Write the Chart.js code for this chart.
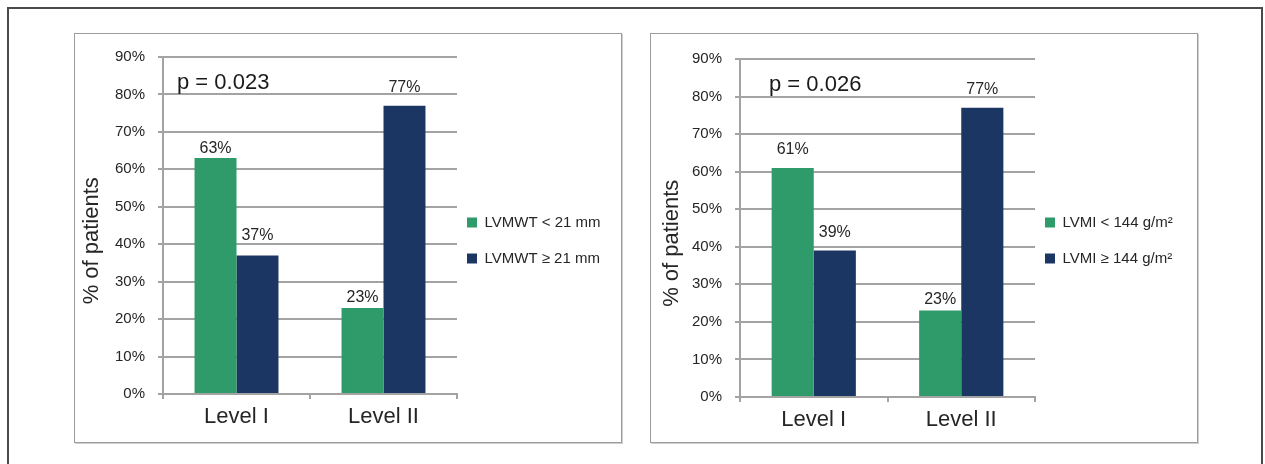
<!DOCTYPE html>
<html>
<head>
<meta charset="utf-8">
<title>Hypertrophy level and LV wall thickness / mass index</title>
<script src="https://cdn.jsdelivr.net/npm/chart.js@4.4.1/dist/chart.umd.min.js"></script>
<style>
  html, body { margin: 0; padding: 0; background: #fff; }
  body { width: 1265px; height: 464px; position: relative; overflow: hidden; }
  #frame { position: absolute; left: 7px; top: 7px; width: 1252px; height: 500px;
           border: 2px solid #4a4a4a; border-bottom: none; }
  .panel { position: absolute; top: 33px; width: 546px; height: 408px;
           border: 1px solid #9c9c9c; box-shadow: 1px 1px 0 #cfcfcf; background: #fff; }
  #panelWT { left: 74px; }
  #panelMI { left: 650px; }
  canvas { display: block; }
</style>
</head>
<body>
<div id="frame"></div>
<div class="panel" id="panelWT"><canvas id="chartWT" width="546" height="408"></canvas></div>
<div class="panel" id="panelMI"><canvas id="chartMI" width="546" height="408"></canvas></div>

<script>
// ---- data ----
const categories = ['Level I', 'Level II'];

const wallThicknessNames = ['LVMWT < 21 mm', 'LVMWT ≥ 21 mm'];
const wallThicknessBelow = [63, 23];
const wallThicknessAbove = [37, 77];

const massIndexNames = ['LVMI < 144 g/m²', 'LVMI ≥ 144 g/m²'];
const massIndexBelow = [61, 23];
const massIndexAbove = [39, 77];

const yTickValues = [0, 10, 20, 30, 40, 50, 60, 70, 80, 90];
const pValueTexts = ['p = 0.023', 'p = 0.026'];
const yAxisTitle = '% of patients';

// ---- style ----
const FONT = '"Liberation Sans", Arial, Helvetica, sans-serif';
const GREEN = '#2f9a6a';
const NAVY = '#1c3664';
const GRID = '#a3a3a3';
const TEXT = '#262626';

Chart.defaults.font.family = FONT;
Chart.defaults.color = TEXT;

// value text above each bar
const valueLabels = {
  id: 'valueLabels',
  afterDatasetsDraw(chart, args, opts) {
    const ctx = chart.ctx;
    ctx.save();
    ctx.font = '16px ' + FONT;
    ctx.fillStyle = TEXT;
    ctx.textAlign = 'center';
    ctx.textBaseline = 'alphabetic';
    chart.data.datasets.forEach((ds, i) => {
      chart.getDatasetMeta(i).data.forEach((bar, j) => {
        ctx.fillText(ds.data[j] + '%', bar.x, bar.y - opts.lift[i][j]);
      });
    });
    ctx.restore();
  }
};

// significance note in the upper left of the plot
const pValueNote = {
  id: 'pValueNote',
  afterDatasetsDraw(chart, args, opts) {
    const ctx = chart.ctx;
    const y = chart.scales.y.getPixelForValue(opts.level);
    ctx.save();
    ctx.font = '22px ' + FONT;
    ctx.fillStyle = '#1a1a1a';
    ctx.textAlign = 'left';
    ctx.textBaseline = 'middle';
    ctx.fillText(opts.text, chart.chartArea.left + opts.dx, y);
    ctx.restore();
  }
};

// keep the legend close to the plot and centred on the panel
const legendPlacement = {
  id: 'legendPlacement',
  afterLayout(chart, args, opts) {
    const lg = chart.legend;
    const dx = lg.options.labels.padding - opts.gap;
    lg.left -= dx;
    lg.right = chart.width;
    lg.width = lg.right - lg.left;
    lg.top += opts.dy;
    lg.bottom += opts.dy;
  }
};

function buildChart(id, names, below, above, pText, lay) {
  return new Chart(document.getElementById(id), {
    type: 'bar',
    data: {
      labels: categories,
      datasets: [
        { label: names[0], data: below, backgroundColor: GREEN },
        { label: names[1], data: above, backgroundColor: NAVY }
      ]
    },
    options: {
      responsive: false,
      animation: false,
      events: [],
      layout: { padding: { left: 0, right: lay.padRight, top: lay.padTop, bottom: 0 } },
      datasets: { bar: { categoryPercentage: 0.571, barPercentage: 1.0 } },
      scales: {
        x: {
          afterFit: (scale) => { scale.height = lay.xAxisHeight; },
          grid: { drawOnChartArea: false, drawTicks: true, tickLength: 5, color: GRID, lineWidth: 2 },
          border: { color: GRID, width: 2 },
          ticks: { font: { size: 22 }, color: TEXT, padding: 5 }
        },
        y: {
          min: 0,
          max: 90,
          afterBuildTicks: (scale) => { scale.ticks = yTickValues.map(v => ({ value: v })); },
          afterFit: (scale) => { scale.width = lay.yAxisWidth; },
          ticks: { callback: v => v + '%', font: { size: 15 }, color: TEXT, padding: 13 },
          grid: { color: GRID, lineWidth: 2, tickLength: 5 },
          border: { color: GRID, width: 2 },
          title: {
            display: true,
            text: yAxisTitle + '     ',
            font: { size: 22 },
            color: TEXT,
            padding: { top: lay.titleInset, bottom: 0 }
          }
        }
      },
      plugins: {
        legend: {
          position: 'right',
          maxWidth: 150,
          labels: { boxWidth: 10, boxHeight: 10, padding: 21, font: { size: 15 }, color: TEXT }
        },
        tooltip: { enabled: false },
        valueLabels: { lift: lay.lift },
        pValueNote: { text: pText, level: 83, dx: lay.pOffset },
        legendPlacement: { gap: 10, dy: lay.legendDy }
      }
    },
    plugins: [valueLabels, pValueNote, legendPlacement]
  });
}

buildChart('chartWT', wallThicknessNames, wallThicknessBelow, wallThicknessAbove, pValueTexts[0], {
  yAxisWidth: 88, xAxisHeight: 48, padRight: 14, padTop: 23, titleInset: 4,
  pOffset: 14, legendDy: -9, lift: [[5, 6], [15, 14]]
});

buildChart('chartMI', massIndexNames, massIndexBelow, massIndexAbove, pValueTexts[1], {
  yAxisWidth: 89, xAxisHeight: 45, padRight: 12, padTop: 25, titleInset: 8,
  pOffset: 29, legendDy: -10, lift: [[14, 7], [14, 14]]
});
</script>
</body>
</html>
